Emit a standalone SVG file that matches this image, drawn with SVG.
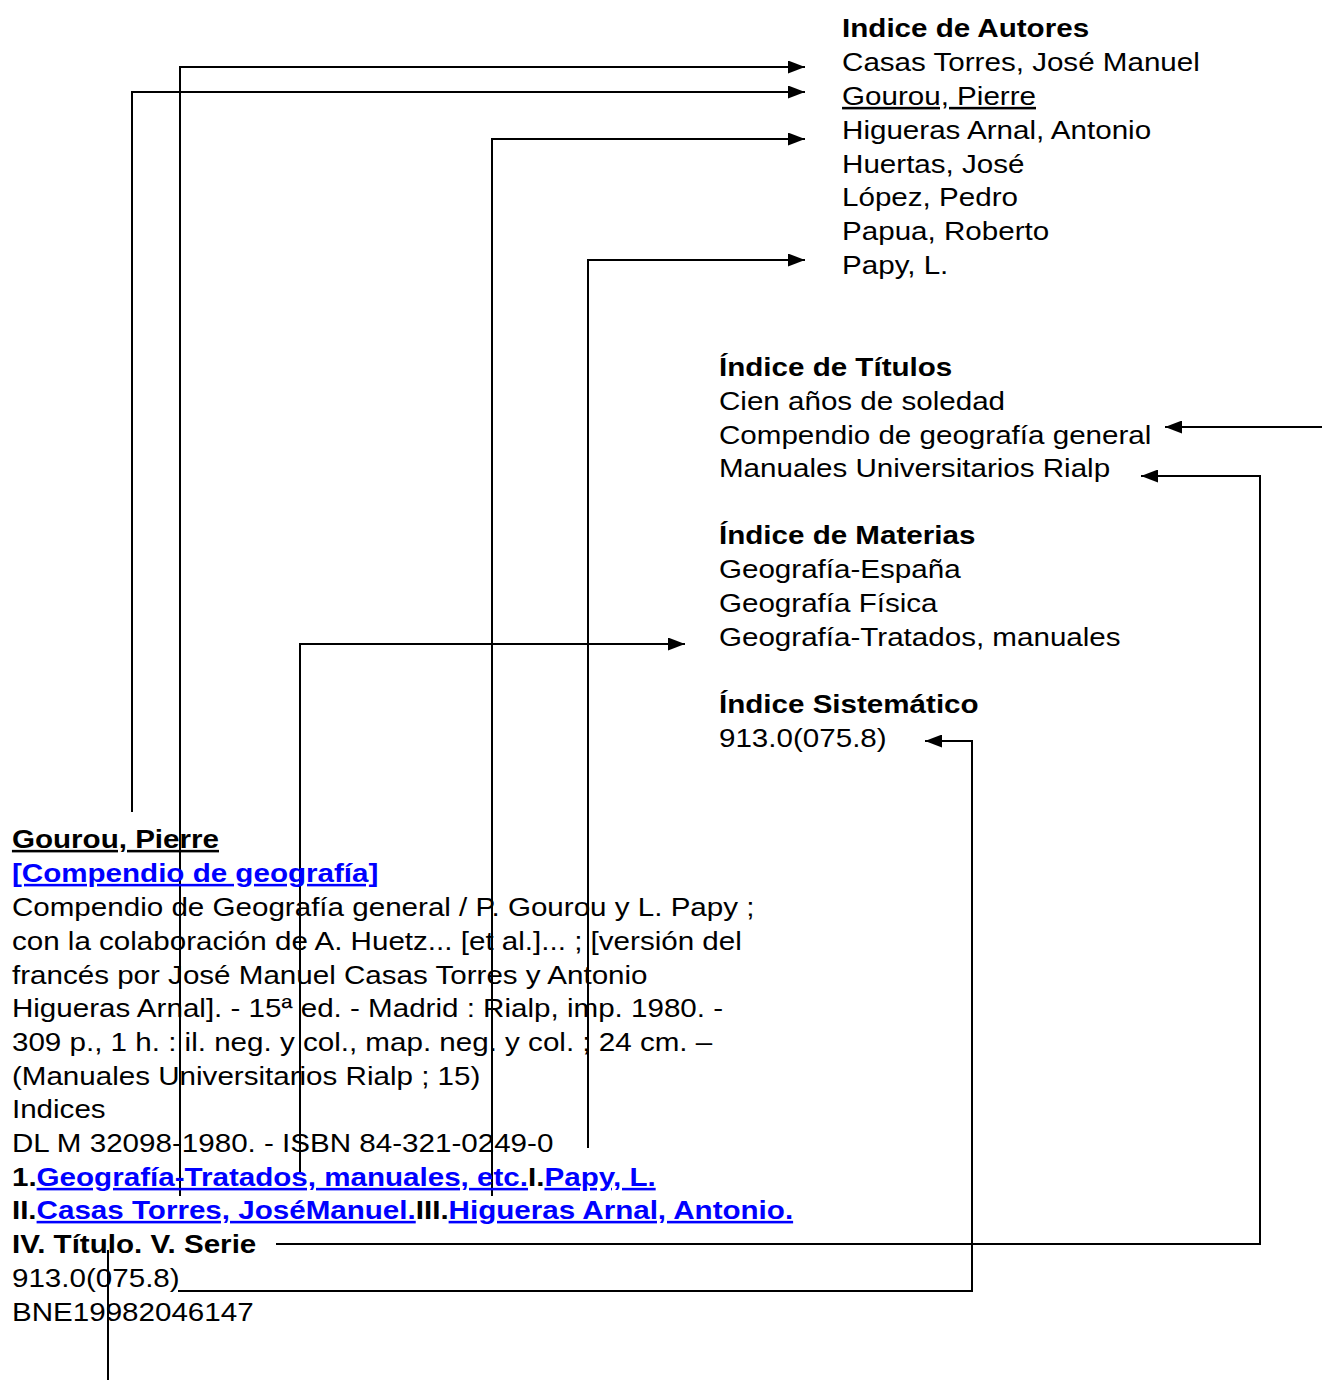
<svg xmlns="http://www.w3.org/2000/svg" width="1322" height="1380" viewBox="0 0 1322 1380">
<style>
text{font-family:"Liberation Sans",Arial,sans-serif;font-size:25.5px;fill:#000}
.b{font-weight:bold}
.u{text-decoration:underline}
.lk{fill:#0000FF;text-decoration:underline;font-weight:bold}
.c{fill:none;stroke:#000;stroke-width:2}
</style>
<defs>
<marker id="ah" markerUnits="userSpaceOnUse" markerWidth="17" markerHeight="13" refX="17" refY="6.5" orient="auto">
<path d="M0,0 L17,6.5 L0,13 z" fill="#000"/>
</marker>
</defs>
<rect width="1322" height="1380" fill="#fff"/>
<g id="connectors">
<path class="c" d="M180,1196 V67 H805" marker-end="url(#ah)"/>
<path class="c" d="M132,812 V92 H805" marker-end="url(#ah)"/>
<path class="c" d="M492,1196 V139 H805" marker-end="url(#ah)"/>
<path class="c" d="M588,1148 V260 H805" marker-end="url(#ah)"/>
<path class="c" d="M300,1172 V644 H685" marker-end="url(#ah)"/>
<path class="c" d="M108,1250 V1380"/>
<path class="c" d="M1322,427 H1165" marker-end="url(#ah)"/>
<path class="c" d="M276,1244 H1260 V476 H1141" marker-end="url(#ah)"/>
<path class="c" d="M178,1291 H972 V741 H925" marker-end="url(#ah)"/>
</g>
<g transform="scale(1.16 1)">
<g id="indice-autores">
<text x="725.9" y="37" class="b">Indice de Autores</text>
<text x="725.9" y="71">Casas Torres, José Manuel</text>
<text x="725.9" y="105" class="u">Gourou, Pierre</text>
<text x="725.9" y="139">Higueras Arnal, Antonio</text>
<text x="725.9" y="173">Huertas, José</text>
<text x="725.9" y="206">López, Pedro</text>
<text x="725.9" y="240">Papua, Roberto</text>
<text x="725.9" y="274">Papy, L.</text>
</g>
<g id="indice-titulos">
<text x="619.8" y="376" class="b">Índice de Títulos</text>
<text x="619.8" y="410">Cien años de soledad</text>
<text x="619.8" y="444">Compendio de geografía general</text>
<text x="619.8" y="477">Manuales Universitarios Rialp</text>
</g>
<g id="indice-materias">
<text x="619.8" y="544" class="b">Índice de Materias</text>
<text x="619.8" y="578">Geografía-España</text>
<text x="619.8" y="612">Geografía Física</text>
<text x="619.8" y="646">Geografía-Tratados, manuales</text>
</g>
<g id="indice-sistematico">
<text x="619.8" y="713" class="b">Índice Sistemático</text>
<text x="619.8" y="747">913.0(075.8)</text>
</g>
<g id="registro">
<text x="10.3" y="848" class="b u">Gourou, Pierre</text>
<text x="10.3" y="882" class="lk">[Compendio de geografía]</text>
<text x="10.3" y="916">Compendio de Geografía general / P. Gourou y L. Papy ;</text>
<text x="10.3" y="950">con la colaboración de A. Huetz... [et al.]... ; [versión del</text>
<text x="10.3" y="984">francés por José Manuel Casas Torres y Antonio</text>
<text x="10.3" y="1017">Higueras Arnal]. - 15ª ed. - Madrid : Rialp, imp. 1980. -</text>
<text x="10.3" y="1051">309 p., 1 h. : il. neg. y col., map. neg. y col. ; 24 cm. –</text>
<text x="10.3" y="1085">(Manuales Universitarios Rialp ; 15)</text>
<text x="10.3" y="1118">Indices</text>
<text x="10.3" y="1152">DL M 32098-1980. - ISBN 84-321-0249-0</text>
<text x="10.3" y="1186" class="b">1.<tspan class="lk">Geografía-Tratados, manuales, etc.</tspan>I.<tspan class="lk">Papy, L.</tspan></text>
<text x="10.3" y="1219" class="b">II.<tspan class="lk">Casas Torres, JoséManuel.</tspan>III.<tspan class="lk">Higueras Arnal, Antonio.</tspan></text>
<text x="10.3" y="1253" class="b">IV. Título. V. Serie</text>
<text x="10.3" y="1287">913.0(075.8)</text>
<text x="10.3" y="1321">BNE19982046147</text>
</g>
</g>
</svg>
